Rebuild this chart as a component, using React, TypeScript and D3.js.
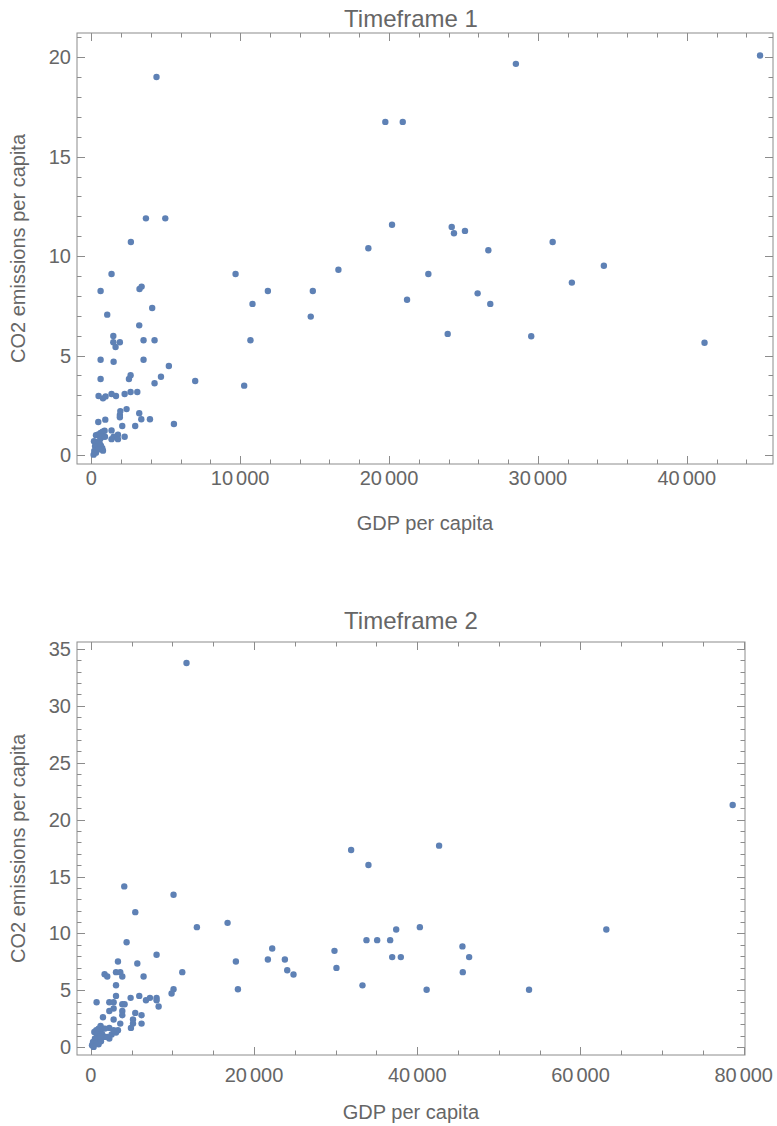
import React, { useRef, useEffect } from "react";
import * as d3 from "d3";

// Timeframe 1: GDP per capita vs CO2 emissions per capita
const gdp1 = [
  44920, 28520, 19750, 20920, 20200, 24210, 24360, 25100, 18610, 26670, 30990, 16600, 22640, 34430,
  11860, 14880, 21210, 25950, 32280, 26800, 14740, 23940, 29550, 41190, 4380, 3670, 4970, 2660,
  1360, 9690, 625, 3240, 3380, 10830, 1070, 4090, 3220, 1480, 1480, 1920, 1630, 3510, 4250, 10690,
  625, 1500, 3510, 5210, 4680, 2640, 2530, 625, 4250, 6980, 10270, 490, 785, 960, 1360, 1660, 2240,
  2640, 3090, 1950, 2370, 1920, 1920, 3220, 3360, 3940, 940, 470, 5550, 2080, 2950, 1360, 1790,
  1500, 1360, 2240, 1790, 315, 470, 625, 760, 895, 760, 605, 920, 180, 380, 560, 250, 425, 740, 785,
  200, 315, 155, 650, 515,
];
const co2_1 = [
  20.09, 19.67, 16.75, 16.75, 11.58, 11.47, 11.15, 11.27, 10.4, 10.3, 10.71, 9.32, 9.1, 9.52,
  8.25, 8.25, 7.81, 8.13, 8.67, 7.6, 6.96, 6.09, 5.97, 5.65, 19.01, 11.9, 11.9, 10.71,
  9.1, 9.1, 8.25, 8.35, 8.47, 7.6, 7.06, 7.39, 6.52, 5.99, 5.67, 5.67, 5.43, 5.77, 5.77, 5.77,
  4.79, 4.69, 4.79, 4.48, 3.94, 4.01, 3.82, 3.82, 3.61, 3.72, 3.49, 2.97, 2.85, 2.95, 3.07, 2.97, 3.07,
  3.17, 3.17, 2.21, 2.31, 2.01, 1.9, 2.1, 1.8, 1.8, 1.78, 1.66, 1.56, 1.46, 1.46, 1.24, 1.02,
  0.92, 0.8, 0.92, 0.8, 1.0, 1.04, 1.11, 1.17, 1.22, 0.92, 0.82, 0.92, 0.7, 0.65, 0.59, 0.45, 0.42, 0.34, 0.22,
  0.2, 0.12, 0.02, 0.47, 0.29,
];

// Timeframe 2
const gdp2 = [
  11730, 78650, 31900, 42680, 34020, 37420, 40320, 63170, 22230, 33780, 35090, 36680, 45540, 21700,
  23780, 29860, 36930, 37990, 46360, 24070, 24840, 30100, 45580, 33290, 41150, 53700, 4100, 10140,
  5450, 13000, 16760, 4390, 8060, 3330, 5700, 17780, 11210, 1690, 2020, 3090, 3610, 3860, 6470, 3090,
  10140, 9900, 18030, 710, 2270, 2800, 3090, 4880, 5940, 6760, 7250, 8060, 8060, 8310, 3860, 4140,
  2800, 2270, 3860, 3860, 5450, 6220, 5170, 1490, 2800, 5170, 6220, 4920, 3610, 1200, 2270, 3330,
  3090, 2550, 2270, 430, 670, 955, 1200, 1490, 1740, 760, 1080, 1410, 1690, 510, 830, 1250, 270, 590,
  150, 350, 955, 2020, 2800, 1200,
];
const co2_2 = [
  33.75, 21.28, 17.33, 17.71, 16.01, 10.35, 10.55, 10.35, 8.68, 9.41, 9.41, 9.41, 8.86, 7.71,
  7.71, 8.47, 7.92, 7.92, 7.92, 6.77, 6.39, 6.97, 6.6, 5.44, 5.05, 5.05, 14.13, 13.4,
  11.87, 10.55, 10.93, 9.23, 8.12, 7.54, 7.36, 7.54, 6.6, 6.42, 6.22, 6.6, 6.6, 6.22, 6.22, 5.45,
  5.1, 4.72, 5.1, 3.96, 3.96, 3.96, 4.51, 4.34, 4.51, 4.13, 4.34, 4.34, 4.13, 3.58, 3.78, 3.78,
  3.4, 3.19, 3.19, 2.81, 3.02, 2.81, 2.44, 2.64, 2.44, 2.08, 2.08, 1.7, 2.08, 1.88, 1.7, 1.5,
  1.29, 1.12, 0.77, 1.35, 1.5, 1.64, 1.5, 1.64, 1.64, 1.14, 0.97, 1.12, 0.91, 0.77, 0.68, 0.53, 0.47, 0.33,
  0.18, 0.03, 0.26, 0.91, 1.5, 0.91,
];

const titles = ["Timeframe 1", "Timeframe 2"];
const xTicks1 = [0, 10000, 20000, 30000, 40000];
const yTicks1 = [0, 5, 10, 15, 20];
const xTicks2 = [0, 20000, 40000, 60000, 80000];
const yTicks2 = [0, 5, 10, 15, 20, 25, 30, 35];

const FONT = "'Liberation Sans', Arial, sans-serif";
const TEXT = "#666666";
const FRAME = "#8c8c8c";
const DOT = "#5E81B5";

interface Panel {
  title: string;
  xs: number[];
  ys: number[];
  xTicks: number[];
  yTicks: number[];
  xMinor: number;
  yMinor: number;
  xDomain: [number, number];
  yDomain: [number, number];
  box: { left: number; right: number; top: number; bottom: number };
  titleY: number;
  xLabelY: number;
  tickLabelY: number;
}

// "10 000" style grouping, with a thin gap before the thousands
const fmt = (v: number) => (v >= 10000 ? [String(Math.floor(v / 1000)), "000"] : [String(v)]);

function drawPanel(svg: d3.Selection<SVGSVGElement, unknown, null, undefined>, p: Panel) {
  const { left, right, top, bottom } = p.box;
  const x = d3.scaleLinear().domain(p.xDomain).range([left, right]);
  const y = d3.scaleLinear().domain(p.yDomain).range([bottom, top]);
  const g = svg.append("g");

  // frame
  g.append("rect")
    .attr("x", left)
    .attr("y", top)
    .attr("width", right - left)
    .attr("height", bottom - top)
    .attr("fill", "none")
    .attr("stroke", FRAME)
    .attr("stroke-width", 1);

  const major = 8;
  const minor = 4.5;
  const xAll = d3.range(0, p.xDomain[1], p.xMinor).filter((v) => v >= p.xDomain[0]);
  const yAll = d3.range(0, p.yDomain[1], p.yMinor).filter((v) => v >= p.yDomain[0]);
  const isMajorX = (v: number) => p.xTicks.includes(v);
  const isMajorY = (v: number) => p.yTicks.includes(v);

  const ticks = g.append("g").attr("stroke", FRAME).attr("stroke-width", 1);
  xAll.forEach((v) => {
    const len = isMajorX(v) ? major : minor;
    const xx = Math.round(x(v)) + 0.5;
    ticks.append("line").attr("x1", xx).attr("x2", xx).attr("y1", bottom).attr("y2", bottom - len);
    ticks.append("line").attr("x1", xx).attr("x2", xx).attr("y1", top).attr("y2", top + len);
  });
  yAll.forEach((v) => {
    const len = isMajorY(v) ? major : minor;
    const yy = Math.round(y(v)) + 0.5;
    ticks.append("line").attr("x1", left).attr("x2", left + len).attr("y1", yy).attr("y2", yy);
    ticks.append("line").attr("x1", right).attr("x2", right - len).attr("y1", yy).attr("y2", yy);
  });

  // tick labels
  const xt = g
    .append("g")
    .selectAll("text")
    .data(p.xTicks)
    .enter()
    .append("text")
    .attr("x", (d) => x(d))
    .attr("y", p.tickLabelY)
    .attr("text-anchor", "middle")
    .attr("dominant-baseline", "central")
    .attr("font-family", FONT)
    .attr("font-size", 20)
    .attr("fill", TEXT);
  xt.each(function (d) {
    const parts = fmt(d);
    const t = d3.select(this);
    parts.forEach((s, i) => t.append("tspan").attr("dx", i > 0 ? 3 : 0).text(s));
  });

  g.append("g")
    .selectAll("text")
    .data(p.yTicks)
    .enter()
    .append("text")
    .attr("x", left - 6)
    .attr("y", (d) => y(d))
    .attr("text-anchor", "end")
    .attr("dominant-baseline", "central")
    .attr("font-family", FONT)
    .attr("font-size", 20)
    .attr("fill", TEXT)
    .text((d) => String(d));

  // points
  g.append("g")
    .selectAll("circle")
    .data(p.xs.map((v, i) => [v, p.ys[i]]))
    .enter()
    .append("circle")
    .attr("cx", (d) => x(d[0]))
    .attr("cy", (d) => y(d[1]))
    .attr("r", 3.2)
    .attr("fill", DOT);

  // labels
  const cx = (left + right) / 2;
  g.append("text")
    .attr("x", 411)
    .attr("y", p.titleY)
    .attr("text-anchor", "middle")
    .attr("dominant-baseline", "central")
    .attr("font-family", FONT)
    .attr("font-size", 24)
    .attr("fill", TEXT)
    .text(p.title);

  g.append("text")
    .attr("x", cx)
    .attr("y", p.xLabelY)
    .attr("text-anchor", "middle")
    .attr("dominant-baseline", "central")
    .attr("font-family", FONT)
    .attr("font-size", 20)
    .attr("fill", TEXT)
    .text("GDP per capita");

  g.append("text")
    .attr("transform", `translate(18,${(top + bottom) / 2}) rotate(-90)`)
    .attr("text-anchor", "middle")
    .attr("dominant-baseline", "central")
    .attr("font-family", FONT)
    .attr("font-size", 20)
    .attr("fill", TEXT)
    .text("CO2 emissions per capita");
}

const App: React.FC = () => {
  const ref = useRef<SVGSVGElement | null>(null);

  useEffect(() => {
    if (!ref.current) return;
    const svg = d3.select(ref.current);
    svg.selectAll("*").remove();

    drawPanel(svg, {
      title: titles[0],
      xs: gdp1,
      ys: co2_1,
      xTicks: xTicks1,
      yTicks: yTicks1,
      xMinor: 2000,
      yMinor: 1,
      xDomain: [-960, 45790],
      yDomain: [-0.45, 21.22],
      box: { left: 77, right: 773, top: 33, bottom: 464 },
      titleY: 18,
      tickLabelY: 478,
      xLabelY: 523,
    });

    drawPanel(svg, {
      title: titles[1],
      xs: gdp2,
      ys: co2_2,
      xTicks: xTicks2,
      yTicks: yTicks2,
      xMinor: 5000,
      yMinor: 1,
      xDomain: [-1690, 80160],
      yDomain: [-0.68, 35.6],
      box: { left: 77, right: 745, top: 642, bottom: 1055 },
      titleY: 620,
      tickLabelY: 1075,
      xLabelY: 1112,
    });
  }, []);

  return (
    <svg
      ref={ref}
      width={777}
      height={1126}
      style={{ position: "absolute", top: 0, left: 0, background: "#fff" }}
    />
  );
};

export default App;
